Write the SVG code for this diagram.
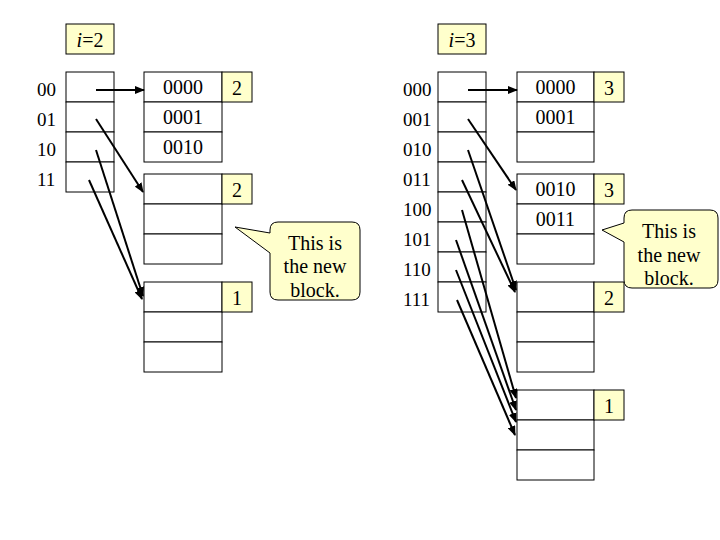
<svg xmlns="http://www.w3.org/2000/svg" width="720" height="540" viewBox="0 0 720 540">
<style>
text{font-family:"Liberation Serif","Times New Roman",serif;font-size:20px;fill:#000}
.lbl{font-size:19px}
.c{text-anchor:middle}
.cell{fill:#fff;stroke:#000;stroke-width:1}
.y{fill:#ffffcc;stroke:#000;stroke-width:1}
.arr{stroke:#000;stroke-width:2;fill:none;marker-end:url(#ah)}
</style>
<defs>
<marker id="ah" markerUnits="userSpaceOnUse" markerWidth="10" markerHeight="8" refX="9" refY="4" orient="auto">
<path d="M0,0 L10,4 L0,8 z" fill="#000"/>
</marker>
</defs>
<rect width="720" height="540" fill="#fff"/>

<!-- LEFT SIDE -->
<g id="left-global">
<rect class="y" x="66" y="24" width="48" height="30"/>
<text class="c" x="90" y="47"><tspan font-style="italic">i</tspan>=2</text>
</g>
<g id="left-dir">
<rect class="cell" x="66" y="72" width="48" height="30"/>
<rect class="cell" x="66" y="102" width="48" height="30"/>
<rect class="cell" x="66" y="132" width="48" height="30"/>
<rect class="cell" x="66" y="162" width="48" height="30"/>
<text class="lbl" x="37" y="96">00</text>
<text class="lbl" x="37" y="126">01</text>
<text class="lbl" x="37" y="156">10</text>
<text class="lbl" x="37" y="186">11</text>
</g>
<g id="left-block1">
<rect class="cell" x="144" y="72" width="78" height="30"/>
<rect class="cell" x="144" y="102" width="78" height="30"/>
<rect class="cell" x="144" y="132" width="78" height="30"/>
<rect class="y" x="222" y="72" width="30" height="30"/>
<text class="c" x="183" y="94">0000</text>
<text class="c" x="183" y="124">0001</text>
<text class="c" x="183" y="154">0010</text>
<text class="c" x="237" y="95">2</text>
</g>
<g id="left-block2">
<rect class="cell" x="144" y="174" width="78" height="30"/>
<rect class="cell" x="144" y="204" width="78" height="30"/>
<rect class="cell" x="144" y="234" width="78" height="30"/>
<rect class="y" x="222" y="174" width="30" height="30"/>
<text class="c" x="237" y="197">2</text>
</g>
<g id="left-block3">
<rect class="cell" x="144" y="282" width="78" height="30"/>
<rect class="cell" x="144" y="312" width="78" height="30"/>
<rect class="cell" x="144" y="342" width="78" height="30"/>
<rect class="y" x="222" y="282" width="30" height="30"/>
<text class="c" x="237" y="305">1</text>
</g>
<g id="left-callout">
<path class="y" d="M278,222 H352 Q360,222 360,230 V292 Q360,300 352,300 H278 Q270,300 270,292 V253 L235,227 L270,233 V230 Q270,222 278,222 Z"/>
<text class="c" x="315" y="250">This is</text>
<text class="c" x="315" y="273">the new</text>
<text class="c" x="315" y="297">block.</text>
</g>

<!-- RIGHT SIDE -->
<g id="right-global">
<rect class="y" x="438" y="24" width="48" height="30"/>
<text class="c" x="462" y="47"><tspan font-style="italic">i</tspan>=3</text>
</g>
<g id="right-dir">
<rect class="cell" x="438" y="72" width="48" height="30"/>
<rect class="cell" x="438" y="102" width="48" height="30"/>
<rect class="cell" x="438" y="132" width="48" height="30"/>
<rect class="cell" x="438" y="162" width="48" height="30"/>
<rect class="cell" x="438" y="192" width="48" height="30"/>
<rect class="cell" x="438" y="222" width="48" height="30"/>
<rect class="cell" x="438" y="252" width="48" height="30"/>
<rect class="cell" x="438" y="282" width="48" height="30"/>
<text class="lbl" x="403" y="96">000</text>
<text class="lbl" x="403" y="126">001</text>
<text class="lbl" x="403" y="156">010</text>
<text class="lbl" x="403" y="186">011</text>
<text class="lbl" x="403" y="216">100</text>
<text class="lbl" x="403" y="246">101</text>
<text class="lbl" x="403" y="276">110</text>
<text class="lbl" x="403" y="306">111</text>
</g>
<g id="right-blockA">
<rect class="cell" x="517" y="72" width="77" height="30"/>
<rect class="cell" x="517" y="102" width="77" height="30"/>
<rect class="cell" x="517" y="132" width="77" height="30"/>
<rect class="y" x="594" y="72" width="30" height="30"/>
<text class="c" x="555.5" y="94">0000</text>
<text class="c" x="555.5" y="124">0001</text>
<text class="c" x="609" y="95">3</text>
</g>
<g id="right-blockB">
<rect class="cell" x="517" y="174" width="77" height="30"/>
<rect class="cell" x="517" y="204" width="77" height="30"/>
<rect class="cell" x="517" y="234" width="77" height="30"/>
<rect class="y" x="594" y="174" width="30" height="30"/>
<text class="c" x="555.5" y="196">0010</text>
<text class="c" x="555.5" y="226">0011</text>
<text class="c" x="609" y="197">3</text>
</g>
<g id="right-blockC">
<rect class="cell" x="517" y="282" width="77" height="30"/>
<rect class="cell" x="517" y="312" width="77" height="30"/>
<rect class="cell" x="517" y="342" width="77" height="30"/>
<rect class="y" x="594" y="282" width="30" height="30"/>
<text class="c" x="609" y="305">2</text>
</g>
<g id="right-blockD">
<rect class="cell" x="517" y="390" width="77" height="30"/>
<rect class="cell" x="517" y="420" width="77" height="30"/>
<rect class="cell" x="517" y="450" width="77" height="30"/>
<rect class="y" x="594" y="390" width="30" height="30"/>
<text class="c" x="609" y="413">1</text>
</g>
<g id="right-callout">
<path class="y" d="M632,210 H710 Q718,210 718,218 V280 Q718,288 710,288 H632 Q624,288 624,280 V242 L602,230 L624,223 V218 Q624,210 632,210 Z"/>
<text class="c" x="669" y="238">This is</text>
<text class="c" x="669" y="262">the new</text>
<text class="c" x="669" y="285">block.</text>
</g>

<g id="connectors">
<line class="arr" x1="96" y1="90" x2="144" y2="90"/>
<line class="arr" x1="96" y1="119" x2="143" y2="192"/>
<line class="arr" x1="96" y1="150" x2="143" y2="296"/>
<line class="arr" x1="89" y1="180" x2="142" y2="299"/>

<line class="arr" x1="468" y1="90" x2="517" y2="90"/>
<line class="arr" x1="468" y1="119" x2="516" y2="190"/>
<line class="arr" x1="468" y1="150" x2="516" y2="290"/>
<line class="arr" x1="462" y1="180" x2="515" y2="292"/>
<line class="arr" x1="462" y1="210" x2="516" y2="398"/>
<line class="arr" x1="456" y1="240" x2="516" y2="410"/>
<line class="arr" x1="456" y1="270" x2="516" y2="422"/>
<line class="arr" x1="457" y1="300" x2="515" y2="435"/>
</g>
</svg>
